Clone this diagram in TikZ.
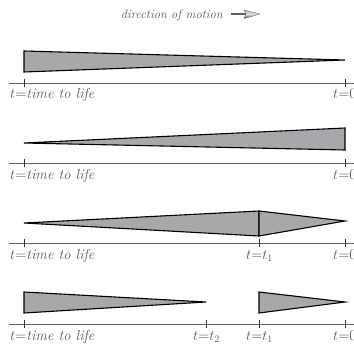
\documentclass[tikz,border=0pt]{standalone}
\usetikzlibrary{arrows.meta}
\definecolor{wedgegray}{RGB}{168,168,172}
\definecolor{textgray}{RGB}{90,90,90}
\definecolor{axisgray}{RGB}{95,95,95}
\begin{document}
\begin{tikzpicture}[x=1pt,y=-1pt,
  wedge/.style={fill=wedgegray,draw=black,line width=1.1pt,line join=miter},
  axisline/.style={draw=axisgray,line width=0.8pt},
  tick/.style={draw=black!80,line width=0.8pt},
  lbl/.style={anchor=base west,inner sep=0pt,text=textgray,font=\fontsize{14.5}{17}\selectfont},
  ttl/.style={inner sep=0pt,text=textgray,font=\fontsize{12.5}{15}\selectfont\itshape}]
\useasboundingbox (0,0) rectangle (354,345);
\clip (0,0) rectangle (354,345);
% title
\node[ttl,anchor=base east] (title) at (223,19) {direction of motion};
\coordinate (arrA) at (231,14);
\coordinate (arrB) at (246,14);
\draw[axisgray,line width=1.1pt] (arrA) -- (arrB);
\shade[top color=gray!60,bottom color=black!75,middle color=gray!25,draw=black!60,line width=0.3pt]
  (244,10) -- (248,11) -- (260,14) -- (248,17.5) -- (244,18.5) -- (246,14) -- cycle;
% panel 1
\draw[wedge] (24,51) -- (345,60) -- (24,72) -- cycle;
\draw[axisline] (9,83) -- (354,83);
\draw[tick] (24,79) -- (24,87);
\draw[tick] (345,79) -- (345,87);
\node[lbl] (l1a) at (10,99) {$t$=\textit{time to life}};
\node[lbl] (l1b) at (333,99) {$t$=0};
% panel 2
\draw[wedge] (24,143) -- (345,128) -- (345,150) -- cycle;
\draw[axisline] (9,163) -- (354,163);
\draw[tick] (24,159) -- (24,167);
\draw[tick] (345,159) -- (345,167);
\node[lbl] (l2a) at (10,179) {$t$=\textit{time to life}};
\node[lbl] (l2b) at (333,179) {$t$=0};
% panel 3
\draw[wedge] (24,223) -- (259,211) -- (259,236) -- cycle;
\draw[wedge] (259,211) -- (345,221) -- (259,236) -- cycle;
\draw[axisline] (9,243) -- (354,243);
\draw[tick] (24,239) -- (24,247);
\draw[tick] (259,239) -- (259,247);
\draw[tick] (345,239) -- (345,247);
\node[lbl] (l3a) at (10,259) {$t$=\textit{time to life}};
\node[lbl] (l3b) at (246,259) {$t$=$t_1$};
\node[lbl] (l3c) at (333,259) {$t$=0};
% panel 4
\draw[wedge] (24,292) -- (206,302) -- (24,313) -- cycle;
\draw[wedge] (259,292) -- (345,302) -- (259,313) -- cycle;
\draw[axisline] (9,324) -- (354,324);
\draw[tick] (24,320) -- (24,328);
\draw[tick] (206,320) -- (206,328);
\draw[tick] (259,320) -- (259,328);
\draw[tick] (345,320) -- (345,328);
\node[lbl] (l4a) at (10,340) {$t$=\textit{time to life}};
\node[lbl] (l4b) at (193,340) {$t$=$t_2$};
\node[lbl] (l4c) at (246,340) {$t$=$t_1$};
\node[lbl] (l4d) at (333,340) {$t$=0};
\end{tikzpicture}
\end{document}
